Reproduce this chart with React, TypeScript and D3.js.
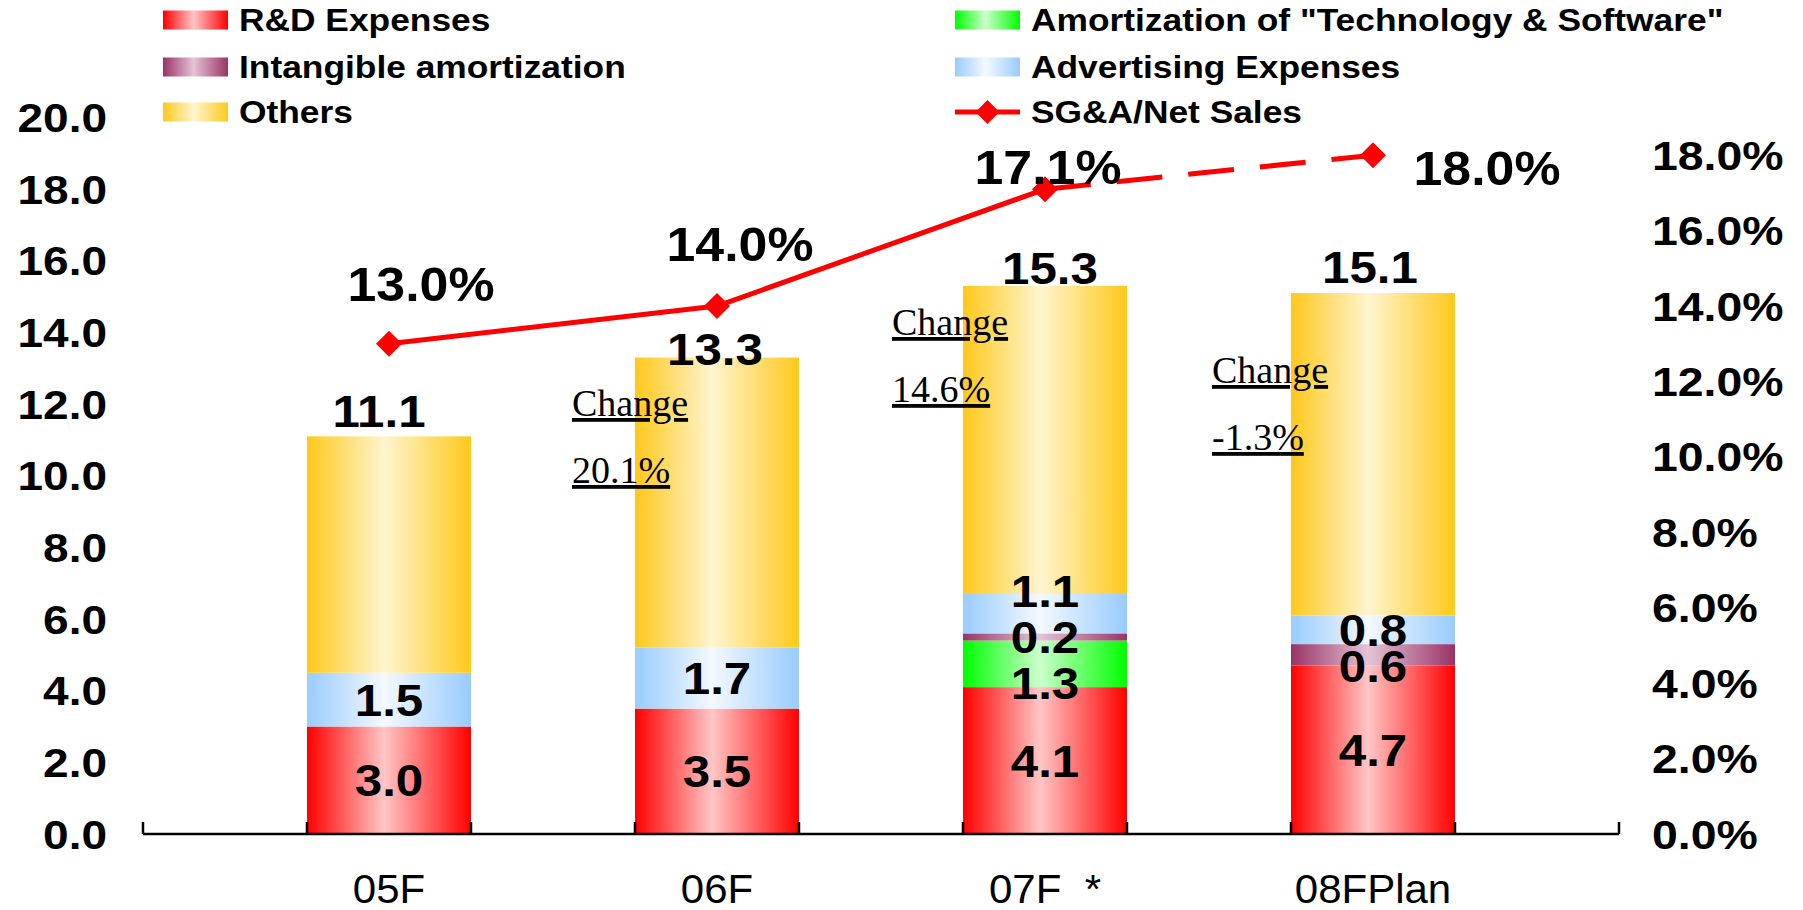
import React from "react";
import * as d3 from "d3";

// ---- data ----
const categories = ["05F", "06F", "07F  *", "08FPlan"];
const rdExpenses = [3.0, 3.5, 4.1, 4.7];
const techAmortization = [0, 0, 1.3, 0];
const intangibleAmortization = [0, 0, 0.2, 0.6];
const advertisingExpenses = [1.5, 1.7, 1.1, 0.8];
const othersExpenses = [6.6, 8.1, 8.6, 9.0];
const totalLabels = ["11.1", "13.3", "15.3", "15.1"];
const sgaRatio = [13.0, 14.0, 17.1, 18.0];
const changeValues = ["", "20.1%", "14.6%", "-1.3%"];
const leftTicks = [0, 2, 4, 6, 8, 10, 12, 14, 16, 18, 20];
const rightTicks = [0, 2, 4, 6, 8, 10, 12, 14, 16, 18];

const seriesKeys = ["rd", "tech", "intang", "adv", "others"];
const seriesNames: Record<string, string> = {
  rd: "R&D Expenses",
  tech: 'Amortization of "Technology & Software"',
  intang: "Intangible amortization",
  adv: "Advertising Expenses",
  others: "Others",
};

// ---- layout / style ----
const W = 1803;
const H = 910;
const gradColors: Record<string, [string, string]> = {
  rd: ["#ff0000", "#ffc6c6"],
  tech: ["#00ff00", "#ccffcc"],
  intang: ["#993366", "#e4c4d6"],
  adv: ["#99ccff", "#f4f9ff"],
  others: ["#ffc91a", "#fff5d0"],
};
// label tweaks (pixels) to mirror the manual placement in the original
const segLabelShift: Record<string, number[]> = {
  rd: [0, 0, 0, 0],
  tech: [0, 0, 19, 0],
  intang: [0, 0, 0, 11],
  adv: [0, 0, -23, 0],
};
const totalDx = [-10, -2, 5, -3];
const totalDy = [-9, 7, -2, -10];
const pctDx = [32, 23, 3, 114];
const pctDy = [-43, -45, -5, 30];
const changePos = [null, [572, 416], [892, 335], [1212, 383]];

const BOLD = "'Liberation Sans', Arial, sans-serif";

function SText(props: {
  x: number;
  y: number;
  sx?: number;
  size: number;
  anchor?: string;
  weight?: string | number;
  family?: string;
  children: React.ReactNode;
  pre?: boolean;
}) {
  const { x, y, sx = 1, size, anchor = "start", weight = "bold", family = BOLD, children, pre } = props;
  return (
    <text
      transform={`translate(${x},${y}) scale(${sx},1)`}
      textAnchor={anchor as any}
      fontSize={size}
      fontWeight={weight as any}
      fontFamily={family}
      fill="#000"
      style={pre ? { whiteSpace: "pre" } : undefined}
    >
      {children}
    </text>
  );
}

export default function App() {
  const rows = categories.map((c, i) => ({
    cat: c,
    rd: rdExpenses[i],
    tech: techAmortization[i],
    intang: intangibleAmortization[i],
    adv: advertisingExpenses[i],
    others: othersExpenses[i],
  }));
  const stacked = d3.stack<any>().keys(seriesKeys)(rows);

  const x = d3
    .scaleBand<string>()
    .domain(categories)
    .range([143, 1619])
    .paddingInner(0.5)
    .paddingOuter(0.5);
  const yL = d3.scaleLinear().domain([0, 20]).range([834, 117.5]);
  const yR = d3.scaleLinear().domain([0, 19]).range([834, 117.5]);
  const cx = (c: string) => (x(c) as number) + x.bandwidth() / 2;

  const pts: [number, number][] = categories.map((c, i) => [cx(c), yR(sgaRatio[i])]);
  const line = d3.line();
  const solidPath = line(pts.slice(0, 3)) as string;
  const dashPath = line(pts.slice(2, 4)) as string;

  const tickXs = d3.range(0, 10).map((k) => 143 + (k * x.step()) / 2);

  const diamond = (px: number, py: number, r: number) =>
    `M${px},${py - r}L${px + r},${py}L${px},${py + r}L${px - r},${py}Z`;

  const legendLeft = ["rd", "intang", "others"];
  const legendRight = ["tech", "adv"];
  const legendRowY = [20, 67, 112];

  return (
    <svg width={W} height={H} style={{ position: "absolute", left: 0, top: 0, background: "#fff" }}>
      <defs>
        {seriesKeys.map((k) => (
          <linearGradient key={k} id={`g-${k}`} x1="0" x2="1" y1="0" y2="0">
            <stop offset="0" stopColor={gradColors[k][0]} />
            <stop offset="0.47" stopColor={gradColors[k][1]} />
            <stop offset="1" stopColor={gradColors[k][0]} />
          </linearGradient>
        ))}
      </defs>

      {/* legend */}
      {legendLeft.map((k, i) => (
        <g key={k}>
          <rect x={163} y={legendRowY[i] - 9.5} width={65} height={19} fill={`url(#g-${k})`} />
          <SText x={239} y={legendRowY[i] + 11} size={31} sx={1.14}>
            {seriesNames[k]}
          </SText>
        </g>
      ))}
      {legendRight.map((k, i) => (
        <g key={k}>
          <rect x={955} y={legendRowY[i] - 9.5} width={65} height={19} fill={`url(#g-${k})`} />
          <SText x={1031} y={legendRowY[i] + 11} size={31} sx={1.14}>
            {seriesNames[k]}
          </SText>
        </g>
      ))}
      <g>
        <line x1={955} x2={1020} y1={legendRowY[2]} y2={legendRowY[2]} stroke="#ff0000" strokeWidth={5} />
        <path d={diamond(987.5, legendRowY[2], 12)} fill="#ff0000" />
        <SText x={1031} y={legendRowY[2] + 11} size={31} sx={1.14}>
          SG&amp;A/Net Sales
        </SText>
      </g>

      {/* left axis labels */}
      {leftTicks.map((t) => (
        <SText key={t} x={107} y={yL(t) + 14.5} size={40} sx={1.15} anchor="end">
          {t.toFixed(1)}
        </SText>
      ))}
      {/* right axis labels */}
      {rightTicks.map((t) => (
        <SText key={t} x={1652} y={yR(t) + 14.5} size={40} sx={1.16}>
          {t.toFixed(1) + "%"}
        </SText>
      ))}

      {/* bars */}
      {stacked.map((s) => (
        <g key={s.key}>
          {s.map((d, i) =>
            d[1] - d[0] > 0 ? (
              <rect
                key={i}
                x={x(categories[i])}
                width={x.bandwidth()}
                y={yL(d[1])}
                height={yL(d[0]) - yL(d[1])}
                fill={`url(#g-${s.key})`}
              />
            ) : null
          )}
        </g>
      ))}

      {/* x axis */}
      <line x1={143} x2={1619} y1={834} y2={834} stroke="#000" strokeWidth={2.5} />
      {tickXs.map((tx, i) => (
        <line key={i} x1={tx} x2={tx} y1={834} y2={822} stroke="#000" strokeWidth={2.5} />
      ))}
      {categories.map((c) => (
        <SText key={c} x={cx(c)} y={903} size={40} sx={1.05} anchor="middle" weight="normal" pre>
          {c}
        </SText>
      ))}

      {/* segment labels */}
      {stacked
        .filter((s) => s.key !== "others")
        .map((s) =>
          s.map((d, i) => {
            const v = d[1] - d[0];
            if (v <= 0) return null;
            const yc = yL((d[0] + d[1]) / 2) + segLabelShift[s.key][i];
            return (
              <SText key={s.key + i} x={cx(categories[i])} y={yc + 16} size={44} sx={1.12} anchor="middle">
                {v.toFixed(1)}
              </SText>
            );
          })
        )}

      {/* totals */}
      {categories.map((c, i) => {
        const top = stacked[stacked.length - 1][i][1];
        return (
          <SText key={c} x={cx(c) + totalDx[i]} y={yL(top) + totalDy[i]} size={44} sx={1.12} anchor="middle">
            {totalLabels[i]}
          </SText>
        );
      })}

      {/* change notes */}
      {changeValues.map((v, i) => {
        const p = changePos[i];
        if (!v || !p) return null;
        return (
          <g key={i}>
            <text
              x={p[0]}
              y={p[1]}
              fontFamily="'Liberation Serif', 'Times New Roman', serif"
              fontSize={38}
              textDecoration="underline"
              fill="#000"
            >
              Change
            </text>
            <text
              x={p[0]}
              y={p[1] + 67}
              fontFamily="'Liberation Serif', 'Times New Roman', serif"
              fontSize={38}
              textDecoration="underline"
              fill="#000"
            >
              {v}
            </text>
          </g>
        );
      })}

      {/* SG&A line */}
      <path d={solidPath} fill="none" stroke="#ff0000" strokeWidth={5} strokeLinejoin="round" />
      <path d={dashPath} fill="none" stroke="#ff0000" strokeWidth={5} strokeDasharray="46 26" />
      {pts.map((p, i) => (
        <path key={i} d={diamond(p[0], p[1], 13)} fill="#ff0000" />
      ))}
      {pts.map((p, i) => (
        <SText key={i} x={p[0] + pctDx[i]} y={p[1] + pctDy[i]} size={48} sx={1.08} anchor="middle">
          {sgaRatio[i].toFixed(1) + "%"}
        </SText>
      ))}
    </svg>
  );
}
